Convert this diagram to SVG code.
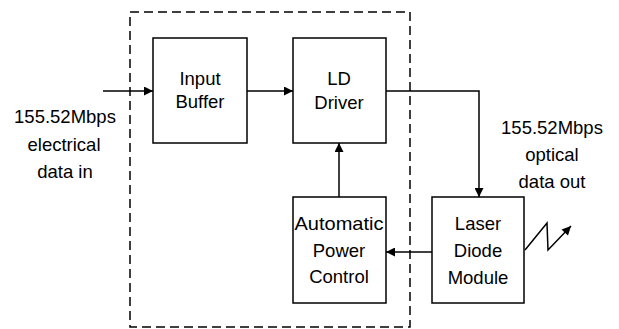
<svg xmlns="http://www.w3.org/2000/svg" width="619" height="329" viewBox="0 0 619 329">
<style>
.box{fill:#fff;stroke:#000;stroke-width:1.5}
.t{font-family:"Liberation Sans",Arial,sans-serif;font-size:18.5px;fill:#000;text-anchor:middle}
.c{fill:none;stroke:#000;stroke-width:1.5}
</style>
<defs>
<marker id="ah" viewBox="0 0 10 10" refX="10" refY="5" markerWidth="10" markerHeight="9" markerUnits="userSpaceOnUse" orient="auto">
<path d="M0,0 L10,5 L0,10 z" fill="#000"/>
</marker>
</defs>
<rect x="130" y="12" width="280" height="315" fill="none" stroke="#000" stroke-width="1.5" stroke-dasharray="9,5"/>
<g id="input-buffer">
<rect class="box" x="153" y="38" width="94" height="105"/>
<text class="t" x="200" y="85">Input</text>
<text class="t" x="200" y="108">Buffer</text>
</g>
<g id="ld-driver">
<rect class="box" x="293" y="38" width="93" height="105"/>
<text class="t" x="339" y="85">LD</text>
<text class="t" x="339" y="109">Driver</text>
</g>
<g id="apc">
<rect class="box" x="293" y="197" width="93" height="106"/>
<text class="t" x="339" y="230" textLength="89" lengthAdjust="spacingAndGlyphs">Automatic</text>
<text class="t" x="339" y="257">Power</text>
<text class="t" x="339" y="283">Control</text>
</g>
<g id="laser">
<rect class="box" x="432" y="197" width="92" height="106"/>
<text class="t" x="478" y="230">Laser</text>
<text class="t" x="478" y="257">Diode</text>
<text class="t" x="478" y="284">Module</text>
</g>
<g id="labels">
<text class="t" x="65" y="123">155.52Mbps</text>
<text class="t" x="64" y="151">electrical</text>
<text class="t" x="65" y="178">data in</text>
<text class="t" x="552" y="134">155.52Mbps</text>
<text class="t" x="552" y="161">optical</text>
<text class="t" x="552" y="188">data out</text>
</g>
<g id="connectors">
<line class="c" x1="103" y1="91" x2="153" y2="91" marker-end="url(#ah)"/>
<line class="c" x1="247" y1="91" x2="293" y2="91" stroke-width="2" marker-end="url(#ah)"/>
<polyline class="c" points="386,91 479,91 479,197" marker-end="url(#ah)"/>
<line class="c" x1="432" y1="252" x2="386" y2="252" marker-end="url(#ah)"/>
<line class="c" x1="339" y1="197" x2="339" y2="143" marker-end="url(#ah)"/>
<polyline class="c" points="525,250 547,223 548,250 571,226" marker-end="url(#ah)"/>
</g>
</svg>
